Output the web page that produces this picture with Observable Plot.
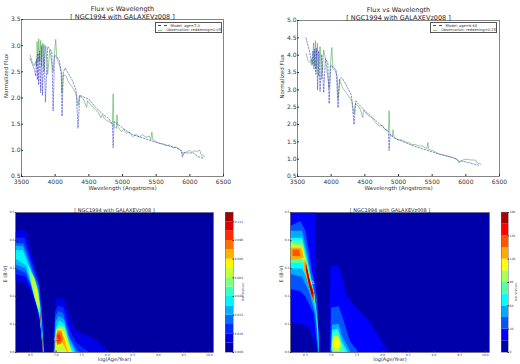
<!DOCTYPE html>
<html><head><meta charset="utf-8">
<script src="https://cdn.jsdelivr.net/npm/d3@7"></script>
<script src="https://cdn.jsdelivr.net/npm/@observablehq/plot@0.6"></script>
<style>
html,body{margin:0;padding:0;background:#fff}
#page{position:relative;width:520px;height:364px;overflow:hidden;font-family:"DejaVu Sans",sans-serif}
#page>svg,#page>figure{position:absolute;margin:0;overflow:visible}
.legend{position:absolute;box-sizing:border-box;height:11px;width:67px;border:0.8px solid #555;background:#fff;font-size:3.7px;line-height:4.4px;padding:0.6px 0 0 1.5px;color:#333}
.legend div{display:flex;align-items:center;height:4.6px;white-space:nowrap}
.legend i{display:inline-block;width:9px;margin-right:4px;height:0}
.legend .m{border-top:0.7px dashed #3a3ad0}
.legend .o{border-top:0.8px solid #8ccc8c}
</style></head><body><div id="page"></div>
<script>
const titleTop = "Flux vs Wavelength\n[ NGC1994 with GALAXEVz008 ]";
const titleBottom = "[ NGC1994 with GALAXEVz008 ]";
const fluxTicksL = [0.5,1,1.5,2,2.5,3,3.5];
const fluxTicksR = [0.5,1,1.5,2,2.5,3,3.5,4,4.5,5];
const waveTicks = [3500,4000,4500,5000,5500,6000,6500];
const ageTicks = [6.5,7,7.5,8,8.5,9,9.5,10];
const ebvTicks = [0,0.1,0.2,0.3,0.4,0.5];
const cbTicksL = [0,0.016,0.032,0.048,0.064,0.08,0.096,0.112];
const cbTicksR = [0,30,60,90,120,150,180];

// Left spectrum
const modelWaveL = [3630,3660,3690,3710,3725,3735,3745,3755,3770,3785,3798,3812,3835,3855,3889,3915,3950,3970,3990,4030,4060,4090,4102,4120,4150,4180,4250,4310,4340,4365,4420,4500,4600,4700,4800,4850,4861,4875,4950,5050,5150,5300,5450,5600,5700,5800,5870,5890,5910,5960,6050,6120,6200];
const modelFluxL = [2.75,2.65,2.55,2.42,2.75,2.35,2.85,2.25,2.9,2.1,3,2.05,3.02,1.92,2.98,2.95,2.88,1.75,2.82,2.78,2.72,2.5,1.65,2.5,2.57,2.5,2.35,2.15,1.42,2.05,2.02,1.98,1.82,1.7,1.6,1.5,1.05,1.55,1.48,1.38,1.3,1.24,1.17,1.12,1.08,1.05,1.0,0.87,0.96,0.95,0.95,0.88,0.85];
const obsWaveL = [3630,3660,3690,3710,3722,3732,3745,3757,3772,3785,3800,3815,3835,3860,3889,3920,3970,3990,4008,4025,4060,4090,4102,4120,4160,4200,4260,4320,4340,4360,4420,4468,4480,4520,4560,4600,4640,4680,4700,4750,4800,4850,4861,4872,4910,4918,4930,4980,5020,5060,5100,5150,5200,5250,5300,5350,5400,5420,5436,5450,5500,5550,5600,5650,5700,5750,5800,5850,5880,5900,5950,6000,6030,6060,6100,6150,6165,6220];
const obsFluxL = [2.82,2.68,2.62,2.7,2.6,3.08,2.7,3.13,2.7,3.1,2.6,3.05,2.5,3,2.45,2.92,2.5,2.85,3.12,2.75,2.65,2.5,2.1,2.45,2.42,2.3,2.2,2.05,1.85,2.05,1.98,1.82,1.95,1.88,1.82,1.78,1.72,1.62,1.68,1.58,1.55,1.5,2.08,1.45,1.42,1.68,1.45,1.36,1.4,1.32,1.35,1.26,1.3,1.25,1.3,1.25,1.27,1.2,1.35,1.2,1.17,1.13,1.12,1.09,1.1,1.05,1.06,1.02,0.98,0.92,0.97,1,0.96,0.99,0.98,1,0.92,0.88];

// Right spectrum
const modelWaveR = [3625,3660,3690,3715,3730,3745,3757,3772,3785,3798,3815,3835,3860,3889,3915,3950,3970,3995,4040,4075,4102,4125,4160,4220,4300,4340,4365,4400,4500,4600,4700,4800,4850,4861,4875,4950,5050,5200,5350,5600,5800,5870,5895,5930,6000,6100,6200];
const modelFluxR = [4.5,4.25,4,3.7,4.12,3.6,4.18,3.45,4.2,3,4.12,2.95,4.02,2.92,3.9,3.78,2.6,3.7,3.65,3.55,2.48,3.3,3.35,3.15,2.85,2,2.68,2.6,2.4,2.22,2.05,1.87,1.8,1.25,1.72,1.6,1.52,1.4,1.3,1.15,1.05,1.0,0.9,0.95,0.92,0.87,0.82];
const obsWaveR = [3630,3655,3690,3712,3725,3738,3750,3765,3778,3795,3812,3835,3860,3889,3920,3970,3990,4010,4025,4060,4090,4102,4125,4170,4230,4310,4340,4360,4420,4470,4480,4520,4560,4600,4640,4680,4720,4760,4800,4850,4861,4872,4910,4918,4935,5000,5050,5100,5150,5200,5250,5300,5350,5420,5436,5450,5520,5600,5700,5800,5880,5900,5950,6000,6060,6150,6165,6225];
const obsFluxR = [4.05,3.85,3.78,3.9,3.75,4.35,3.7,4.42,3.6,4.35,3.4,4.25,3.3,4.15,3.85,3.05,3.75,4.22,3.6,3.55,3.4,2.75,3.3,3.05,2.9,2.68,2.3,2.6,2.5,2.2,2.42,2.32,2.25,2.2,2.1,2.02,1.95,1.98,1.85,1.8,2.4,1.7,1.65,1.85,1.62,1.55,1.56,1.5,1.48,1.42,1.42,1.38,1.38,1.3,1.48,1.28,1.24,1.15,1.1,1.05,0.98,0.92,0.97,1,0.98,0.97,0.9,0.85];

// Filled contour regions: each is [level index, log age / E(B-V) pairs]
const regionsL = [
 [1,[[6.206,.43],[6.28,.44],[6.41,.435],[6.49,.38],[6.57,.32],[6.67,.25],[6.735,.155],[6.78,0],[6.72,0],[6.69,.085],[6.6,.165],[6.47,.23],[6.34,.25],[6.206,.257]]],
 [2,[[6.206,.41],[6.38,.41],[6.47,.355],[6.57,.30],[6.67,.245],[6.72,.155],[6.77,0],[6.73,0],[6.70,.09],[6.63,.17],[6.50,.235],[6.40,.27],[6.206,.28]]],
 [3,[[6.206,.39],[6.36,.39],[6.45,.345],[6.55,.29],[6.66,.24],[6.71,.15],[6.765,0],[6.74,0],[6.69,.12],[6.6,.18],[6.5,.24],[6.4,.285],[6.206,.30]]],
 [4,[[6.206,.38],[6.35,.38],[6.44,.335],[6.55,.28],[6.65,.23],[6.71,.14],[6.76,0],[6.745,0],[6.685,.13],[6.6,.185],[6.5,.25],[6.4,.30],[6.206,.315]]],
 [5,[[6.206,.365],[6.35,.365],[6.44,.32],[6.55,.27],[6.65,.22],[6.70,.14],[6.755,0],[6.748,0],[6.68,.13],[6.6,.185],[6.52,.24],[6.42,.31],[6.206,.335]]],
 [6,[[6.44,.32],[6.56,.27],[6.65,.215],[6.70,.14],[6.752,0],[6.75,0],[6.675,.135],[6.6,.19],[6.52,.245]]],
 [7,[[6.47,.30],[6.58,.265],[6.65,.21],[6.69,.15],[6.66,.15],[6.58,.195],[6.51,.25]]],
 [8,[[6.52,.275],[6.6,.25],[6.65,.205],[6.675,.16],[6.64,.165],[6.58,.205],[6.53,.245]]],
 [9,[[6.58,.25],[6.62,.23],[6.65,.19],[6.63,.185],[6.59,.22]]],
 [14,[[6.68,.17],[6.70,.13],[6.75,0],[6.74,0],[6.69,.13]]],
 [1,[[6.93,0],[6.96,.085],[6.997,.191],[7.08,.197],[7.16,.191],[7.258,.132],[7.39,.078],[7.68,.055],[7.88,.031],[8.02,0]]],
 [2,[[6.95,0],[6.977,.144],[7.03,.167],[7.147,.162],[7.258,.084],[7.39,.037],[7.65,0]]],
 [3,[[6.955,0],[6.985,.125],[7.04,.148],[7.14,.14],[7.25,.06],[7.40,.01],[7.48,0]]],
 [4,[[6.96,0],[6.99,.11],[7.05,.13],[7.15,.12],[7.26,.05],[7.40,0]]],
 [5,[[6.964,0],[6.997,.09],[7.06,.114],[7.16,.102],[7.258,.037],[7.37,0]]],
 [7,[[6.97,0],[7.0,.08],[7.07,.098],[7.17,.088],[7.27,.02],[7.33,0]]],
 [8,[[6.99,0],[7.01,.08],[7.09,.09],[7.18,.07],[7.31,0]]],
 [9,[[7.0,.05],[7.02,.075],[7.09,.085],[7.17,.06],[7.29,0],[7.2,0],[7.14,.03],[7.05,.02]]],
 [10,[[7.0,.055],[7.03,.08],[7.1,.08],[7.15,.055],[7.24,0],[7.22,0],[7.12,.035],[7.03,.03]]],
 [11,[[6.995,.05],[7.03,.075],[7.1,.075],[7.14,.05],[7.09,.03],[7.02,.028]]],
 [12,[[6.995,.05],[7.03,.068],[7.08,.06],[7.09,.045],[7.03,.035]]],
 [14,[[6.95,0],[6.98,.05],[6.99,.055],[6.96,0]]]
];
const regionsR = [
 [1,[[6.21,.5],[6.69,.5],[6.70,.3],[6.73,.15],[6.78,0],[6.75,0],[6.68,.04],[6.56,.09],[6.45,.10],[6.21,.108]]],
 [1,[[6.955,0],[6.99,.31],[7.15,.31],[7.31,.2],[7.51,.155],[7.73,.114],[8.12,0]]],
 [2,[[6.21,.452],[6.40,.47],[6.5,.435],[6.6,.32],[6.73,.19],[6.766,0],[6.74,0],[6.66,.14],[6.5,.2],[6.40,.22],[6.21,.226]]],
 [3,[[6.21,.435],[6.435,.435],[6.53,.36],[6.66,.22],[6.74,.1],[6.766,0],[6.755,0],[6.7,.13],[6.565,.22],[6.435,.27],[6.21,.28]]],
 [4,[[6.21,.41],[6.435,.41],[6.54,.33],[6.68,.2],[6.75,.08],[6.76,0],[6.7,.15],[6.57,.25],[6.435,.30],[6.21,.3]]],
 [5,[[6.21,.4],[6.44,.40],[6.53,.32],[6.68,.19],[6.75,.08],[6.7,.17],[6.58,.26],[6.44,.32],[6.21,.32]]],
 [6,[[6.21,.39],[6.44,.385],[6.53,.31],[6.67,.2],[6.72,.13],[6.68,.19],[6.58,.27],[6.44,.335],[6.21,.335]]],
 [7,[[6.21,.38],[6.44,.375],[6.52,.31],[6.67,.21],[6.68,.19],[6.58,.27],[6.44,.345],[6.21,.345]]],
 [8,[[6.21,.375],[6.42,.375],[6.47,.34],[6.40,.335],[6.21,.33]]],
 [8,[[6.47,.34],[6.55,.27],[6.67,.21],[6.68,.17],[6.56,.24],[6.47,.3]]],
 [9,[[6.25,.368],[6.38,.368],[6.40,.345],[6.25,.345]]],
 [9,[[6.5,.33],[6.57,.27],[6.665,.21],[6.665,.18],[6.56,.245],[6.5,.3]]],
 [10,[[6.51,.32],[6.58,.262],[6.655,.215],[6.65,.19],[6.57,.24],[6.51,.295]]],
 [11,[[6.52,.31],[6.6,.24],[6.645,.215],[6.63,.2],[6.57,.245],[6.52,.29]]],
 [2,[[6.985,0],[7.0,.16],[7.15,.165],[7.25,.11],[7.365,.04],[7.54,0]]],
 [3,[[6.99,0],[7.02,.1],[7.15,.102],[7.21,.06],[7.38,0]]],
 [4,[[7.0,0],[7.02,.08],[7.13,.085],[7.21,.04],[7.325,0]]],
 [5,[[7.01,.01],[7.03,.07],[7.13,.075],[7.2,.03],[7.27,0],[7.04,0]]],
 [6,[[7.02,.02],[7.04,.06],[7.14,.06],[7.2,.025],[7.15,.005],[7.05,.005]]],
 [7,[[7.03,.03],[7.065,.055],[7.15,.05],[7.18,.03],[7.13,.015],[7.065,.015]]]
];
const bestL = [[7.0,.05]];
const bestR = [[6.64,.25]];

const page = document.getElementById("page");
const FONT = "DejaVu Sans";
const INK = "#333";
const EDGE = "#666";

function jet(t){
  const c = v => Math.round(255*Math.max(0,Math.min(1,v)));
  return `rgb(${c(1.5-Math.abs(4*t-3))},${c(1.5-Math.abs(4*t-2))},${c(1.5-Math.abs(4*t-1))})`;
}
function place(el,left,top){el.style.left=left+"px";el.style.top=top+"px";page.appendChild(el);}
const xLabel=(text,size,dy)=>Plot.text([text],{frameAnchor:"bottom",lineAnchor:"middle",dy,fontSize:size,fill:INK});
const yLabel=(text,size,dx)=>Plot.text([text],{frameAnchor:"left",rotate:-90,dx:-dx,fontSize:size,fill:INK});

function spectrum({left,top,width,ml,mr,mt,mb,ymax,yticks,mw,mf,ow,of,modelLabel,obsLabel,legendLeft}){
  const rows=(w,f)=>w.map((x,i)=>({x,y:f[i]}));
  const svg = Plot.plot({
    width,height:195,marginLeft:ml,marginRight:mr,marginTop:mt,marginBottom:mb,
    style:{fontFamily:FONT,fontSize:"6px",background:"transparent",color:INK},
    x:{domain:[3500,6500]},y:{domain:[0.5,ymax]},
    marks:[
      Plot.line(rows(ow,of),{x:"x",y:"y",stroke:"#46a546",strokeOpacity:0.7,strokeWidth:0.8}),
      Plot.line(rows(mw,mf),{x:"x",y:"y",stroke:"#2a2ad0",strokeOpacity:0.85,strokeWidth:0.65,strokeDasharray:"1.6,1.6"}),
      Plot.frame({stroke:EDGE,strokeWidth:0.8}),
      Plot.axisX({ticks:waveTicks,tickFormat:d=>String(d),tickSize:-2,tickPadding:5,fontSize:6,label:null}),
      Plot.axisY({ticks:yticks,tickFormat:d3.format(".1f"),tickSize:-2,tickPadding:3,fontSize:6,label:null}),
      xLabel("Wavelength (Angstroms)",5.5,12),
      yLabel("Normalized Flux",5.5,15),
      Plot.text([titleTop],{frameAnchor:"top",lineAnchor:"bottom",dy:-1,fontSize:6.5,lineHeight:1.13,fill:"#222"})
    ]
  });
  place(svg,left,top);
  const lg=document.createElement("div");
  lg.className="legend";
  lg.innerHTML=`<div><i class="m"></i>${modelLabel}</div><div><i class="o"></i>${obsLabel}</div>`;
  place(lg,legendLeft,22);
}

function contour({left,width,ml,mr,regions,nBands,best,labelOffset}){
  const rows=regions.flatMap(([level,pts],id)=>pts.map(([x,y])=>({id,level,x,y})));
  const colors=d3.range(nBands).map(i=>jet((i+0.5)/nBands));
  const svg=Plot.plot({
    width,height:169,marginLeft:ml,marginRight:mr,marginTop:17,marginBottom:12,
    style:{fontFamily:FONT,fontSize:"3px",background:"transparent",color:INK},
    x:{domain:[ml===15?6.206:6.21,10.08]},y:{domain:[0,0.5]},
    color:{type:"ordinal",domain:d3.range(nBands),range:colors},
    marks:[
      Plot.frame({fill:colors[0],stroke:null}),
      Plot.line(rows,{x:"x",y:"y",z:"id",fill:"level",stroke:"none",curve:"linear-closed",clip:true}),
      Plot.dot(best,{x:d=>d[0],y:d=>d[1],r:1.2,stroke:"white",strokeWidth:0.5,symbol:"triangle"}),
      Plot.frame({stroke:EDGE,strokeWidth:0.6}),
      Plot.axisX({ticks:ageTicks,tickFormat:d3.format(".1f"),tickSize:-1.5,tickPadding:3.2,fontSize:3,label:null}),
      Plot.axisY({ticks:ebvTicks,tickFormat:d3.format(".1f"),tickSize:-1.5,tickPadding:2.5,fontSize:3,label:null}),
      xLabel("log(Age/Year)",5,7),
      yLabel("E (B-V)",5,labelOffset),
      Plot.text([titleBottom],{frameAnchor:"top",lineAnchor:"bottom",dy:-0.3,fontSize:5,fill:"#222"})
    ]
  });
  place(svg,left,195);
}

function colorbar({left,width,mr,vmax,nBands,ticks,fmt,labelOffset}){
  const step=vmax/nBands;
  const bands=d3.range(nBands).map(i=>({i,lo:i*step,hi:(i+1)*step}));
  const svg=Plot.plot({
    width,height:169,marginLeft:5,marginRight:mr,marginTop:17,marginBottom:12,
    style:{fontFamily:FONT,fontSize:"3px",background:"transparent",color:INK},
    x:{domain:[0,1],axis:null},y:{domain:[0,vmax]},
    color:{type:"ordinal",domain:d3.range(nBands),range:d3.range(nBands).map(i=>jet((i+0.5)/nBands))},
    marks:[
      Plot.rect(bands,{x1:()=>0,x2:()=>1,y1:"lo",y2:"hi",fill:"i"}),
      Plot.frame({stroke:EDGE,strokeWidth:0.5}),
      Plot.axisY({anchor:"right",ticks,tickFormat:fmt,tickSize:-1.5,tickPadding:2.5,fontSize:3,label:null}),
      Plot.text(["Test Statistic"],{frameAnchor:"right",rotate:-90,dx:labelOffset,fontSize:3,fill:INK})
    ]
  });
  place(svg,left,195);
}

spectrum({left:0,top:0,width:260,ml:21,mr:37,mt:19,mb:19,ymax:3.5,yticks:fluxTicksL,mw:modelWaveL,mf:modelFluxL,ow:obsWaveL,of:obsFluxL,
  modelLabel:"Model: age=7.0",obsLabel:"Observation: reddening=0.05",legendLeft:155});
spectrum({left:260,top:0,width:260,ml:37,mr:21,mt:20,mb:19,ymax:5,yticks:fluxTicksR,mw:modelWaveR,mf:modelFluxR,ow:obsWaveR,of:obsFluxR,
  modelLabel:"Model: age=6.64",obsLabel:"Observation: reddening=0.25",legendLeft:430});
contour({left:0,width:222,ml:15,mr:9,regions:regionsL,nBands:15,best:bestL,labelOffset:10});
contour({left:260,width:235,ml:30,mr:6,regions:regionsR,nBands:12,best:bestR,labelOffset:9});
colorbar({left:220,width:40,mr:27,vmax:0.12,nBands:15,ticks:cbTicksL,fmt:d3.format(".3f"),labelOffset:10});
colorbar({left:496,width:24,mr:12,vmax:180,nBands:12,ticks:cbTicksR,fmt:d=>String(d),labelOffset:8});
</script></body></html>
